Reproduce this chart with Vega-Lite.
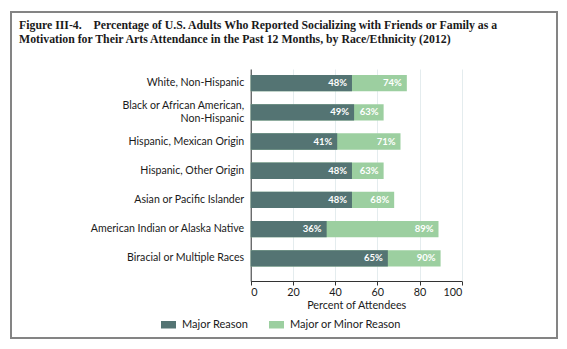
{
  "$schema": "https://vega.github.io/schema/vega-lite/v6.json",
  "width": 546,
  "height": 326,
  "padding": {"left": 11, "top": 12, "right": 10, "bottom": 11},
  "autosize": {"type": "none"},
  "background": "white",
  "config": {
    "view": {"stroke": "#848484", "strokeWidth": 2},
    "font": "Lato"
  },
  "title": {
    "text": ["Figure III-4.\u00a0\u00a0\u00a0\u00a0Percentage of U.S. Adults Who Reported Socializing with Friends or Family as a", "Motivation for Their Arts Attendance in the Past 12 Months, by Race/Ethnicity (2012)"],
    "anchor": "start",
    "frame": "group",
    "offset": -34,
    "dx": 8,
    "font": "Liberation Serif",
    "fontSize": 11.8,
    "fontWeight": "bold",
    "color": "#1a1a1a",
    "lineHeight": 14.5
  },
  "data": {
    "values": [
      {"group": "White, Non-Hispanic", "reason": "Major or Minor Reason", "value": 74},
      {"group": "White, Non-Hispanic", "reason": "Major Reason", "value": 48},
      {"group": "Black or African American, Non-Hispanic", "reason": "Major or Minor Reason", "value": 63},
      {"group": "Black or African American, Non-Hispanic", "reason": "Major Reason", "value": 49},
      {"group": "Hispanic, Mexican Origin", "reason": "Major or Minor Reason", "value": 71},
      {"group": "Hispanic, Mexican Origin", "reason": "Major Reason", "value": 41},
      {"group": "Hispanic, Other Origin", "reason": "Major or Minor Reason", "value": 63},
      {"group": "Hispanic, Other Origin", "reason": "Major Reason", "value": 48},
      {"group": "Asian or Pacific Islander", "reason": "Major or Minor Reason", "value": 68},
      {"group": "Asian or Pacific Islander", "reason": "Major Reason", "value": 48},
      {"group": "American Indian or Alaska Native", "reason": "Major or Minor Reason", "value": 89},
      {"group": "American Indian or Alaska Native", "reason": "Major Reason", "value": 36},
      {"group": "Biracial or Multiple Races", "reason": "Major or Minor Reason", "value": 90},
      {"group": "Biracial or Multiple Races", "reason": "Major Reason", "value": 65}
    ]
  },
  "transform": [{"calculate": "datum.value + '%'", "as": "label"}],
  "encoding": {
    "y": {
      "field": "group",
      "type": "nominal",
      "sort": null,
      "scale": {"range": [57, 269], "paddingInner": 0.44, "paddingOuter": 0.35, "align": 0.29},
      "axis": {
        "title": null,
        "offset": -239.7,
        "ticks": false,
        "domainColor": "#333333",
        "labelPadding": 7,
        "labelFont": "Lato",
        "labelFontSize": 10.6,
        "labelColor": "#1a1a1a",
        "labelLineHeight": 13.5,
        "labelOffset": {"condition": {"test": "datum.value == 'Black or African American, Non-Hispanic'", "value": -6.5}, "value": 0},
        "labelExpr": "datum.label == 'Black or African American, Non-Hispanic' ? ['Black or African American,', 'Non-Hispanic'] : datum.label"
      }
    },
    "x": {
      "field": "value",
      "type": "quantitative",
      "scale": {"domain": [0, 100], "range": [239.7, 450.7]},
      "axis": {
        "title": "Percent of Attendees",
        "offset": -57,
        "values": [0, 20, 40, 60, 80, 100],
        "grid": true,
        "gridColor": "#e4ecee",
        "domainColor": "#333333",
        "tickColor": "#333333",
        "tickSize": 4,
        "labelFont": "Lato",
        "labelFontSize": 10.8,
        "labelColor": "#1a1a1a",
        "labelPadding": 1,
        "titleFont": "Lato",
        "titleFontSize": 10.8,
        "titleFontWeight": "normal",
        "titleColor": "#1a1a1a",
        "titlePadding": 3
      }
    }
  },
  "layer": [
    {
      "transform": [{"filter": "datum.reason == 'Major or Minor Reason'"}],
      "mark": {"type": "bar"},
      "encoding": {
        "color": {
          "field": "reason",
          "type": "nominal",
          "scale": {"domain": ["Major Reason", "Major or Minor Reason"], "range": ["#547473", "#9ccfa0"]},
          "legend": {
            "title": null,
            "orient": "none",
            "direction": "horizontal",
            "legendX": 150,
            "legendY": 305,
            "symbolType": "M-1,-0.5H1V0.5H-1Z",
            "symbolSize": 225,
            "symbolStrokeWidth": 0,
            "labelFont": "Lato",
            "labelFontSize": 11,
            "labelColor": "#1a1a1a",
            "labelOffset": 6,
            "columnPadding": 20
          }
        }
      }
    },
    {
      "transform": [{"filter": "datum.reason == 'Major Reason'"}],
      "mark": {"type": "bar"},
      "encoding": {
        "color": {"field": "reason", "type": "nominal"}
      }
    },
    {
      "mark": {"type": "text", "align": "right", "baseline": "middle", "dx": -5, "fontSize": 9.5, "fontWeight": "bold", "font": "Lato", "color": "white"},
      "encoding": {"text": {"field": "label"}}
    }
  ]
}
